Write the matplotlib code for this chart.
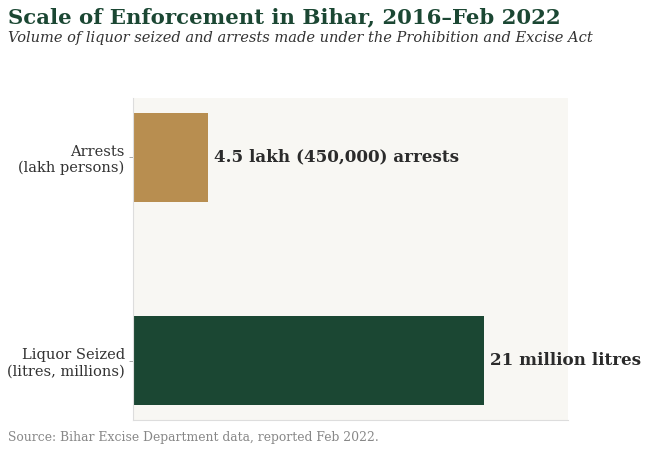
import matplotlib
matplotlib.use('Agg')
import matplotlib.pyplot as plt

# data
categories = ['Liquor Seized\n(litres, millions)', 'Arrests\n(lakh persons)']
values = [21, 4.5]
bar_labels = ['21 million litres', '4.5 lakh (450,000) arrests']
colors = ['#1b4733', '#b88e50']

plt.rcParams['font.family'] = 'DejaVu Serif'

fig = plt.figure(figsize=(6.5, 4.51), dpi=100)
ax = fig.add_axes([133/650, 1-420/451, (568-133)/650, (420-98)/451])
ax.set_facecolor('#f8f7f3')

bars = ax.barh(categories, values, height=0.44, color=colors)
for b, lab in zip(bars, bar_labels):
    ax.text(b.get_width() + 0.35, b.get_y() + b.get_height()/2, lab,
            va='center', ha='left', fontsize=12.1, fontweight='bold', color='#2b2b2b')

ax.set_xlim(0, 26)
ax.set_xticks([])
ax.tick_params(axis='y', length=3, width=0.6, color='#999999', labelsize=10.5,
               labelcolor='#333333', pad=3)
for s in ['top', 'right']:
    ax.spines[s].set_visible(False)
for s in ['left', 'bottom']:
    ax.spines[s].set_color('#dddddd')
    ax.spines[s].set_linewidth(0.8)

fig.text(8/650, 1-17/451, 'Scale of Enforcement in Bihar, 2016\u2013Feb 2022',
         fontsize=15.3, fontweight='bold', color='#1b4733', va='center', ha='left')
fig.text(8/650, 1-38/451, 'Volume of liquor seized and arrests made under the Prohibition and Excise Act',
         fontsize=10.55, style='italic', color='#333333', va='center', ha='left')
fig.text(8/650, 1-437/451, 'Source: Bihar Excise Department data, reported Feb 2022.',
         fontsize=8.9, color='#888888', va='center', ha='left')

fig.savefig('out.png', dpi=100, facecolor='white')
